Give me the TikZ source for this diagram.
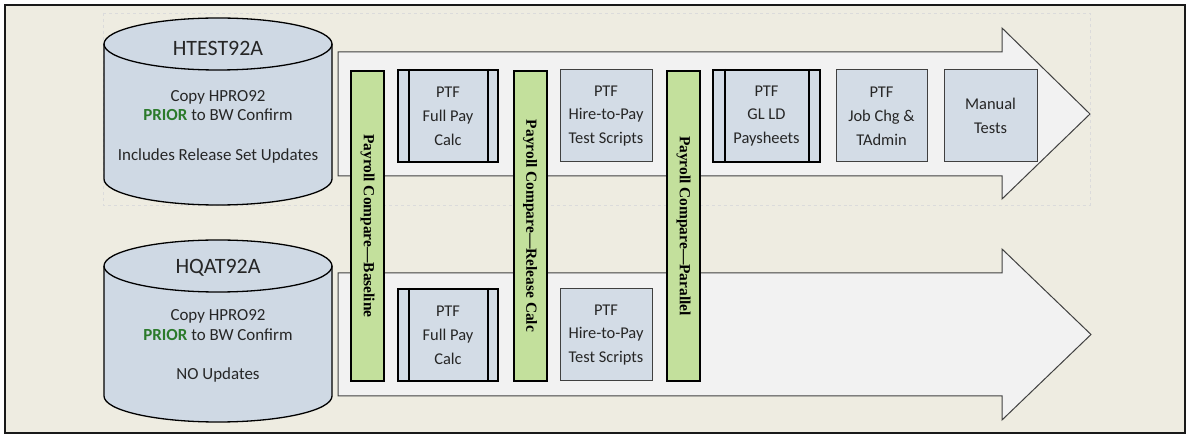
\documentclass[tikz,border=0pt]{standalone}
\usepackage{fontspec}
\setmainfont{Carlito}
\newfontfamily\barfont{Liberation Serif}
\definecolor{bgc}{HTML}{EEECE1}
\definecolor{arrowc}{HTML}{F2F2F2}
\definecolor{arrowedge}{HTML}{404040}
\definecolor{dbc}{HTML}{CFD9E4}
\definecolor{boxc}{HTML}{D3DCE6}
\definecolor{greenc}{HTML}{C3E09C}
\definecolor{txtc}{HTML}{262626}
\definecolor{priorc}{HTML}{2B7A2B}
\newcommand\dbshape[2]{%
  \filldraw[dbstyle] (104,#1) -- (104,#2)
    .. controls (104,{#2+14.4}) and (155,{#2+26}) .. (218,{#2+26})
    .. controls (281,{#2+26}) and (332,{#2+14.4}) .. (332,#2)
    -- (332,#1)
    .. controls (332,{#1-14.4}) and (281,{#1-26}) .. (218,{#1-26})
    .. controls (155,{#1-26}) and (104,{#1-14.4}) .. (104,#1) -- cycle;
  \draw[dbstyle, fill=none] (104,#1)
    .. controls (104,{#1+14.4}) and (155,{#1+26}) .. (218,{#1+26})
    .. controls (281,{#1+26}) and (332,{#1+14.4}) .. (332,#1);}
\begin{document}
\begin{tikzpicture}[x=1bp,y=-1bp,
  dbstyle/.style={draw=black, line width=1.3bp, fill=dbc},
  arrowshape/.style={draw=arrowedge, line width=1bp, fill=arrowc, line join=miter},
  dbtitle/.style={text=txtc, font=\fontsize{22}{24}\selectfont, inner sep=0},
  dbtxt/.style={text=txtc, font=\fontsize{17}{19}\selectfont, inner sep=0},
  thickbox/.style={draw=black, line width=2bp, fill=boxc, minimum height=92bp, inner sep=0},
  thinbox/.style={draw=arrowedge, line width=1bp, fill=boxc, minimum height=92bp, inner sep=0},
  boxtxt/.style={text=txtc, font=\fontsize{16.5}{24}\selectfont, align=center, inner sep=0},
  gbar/.style={draw=black, line width=2bp, fill=greenc, minimum width=33bp, minimum height=310bp, inner sep=0},
  bartxt/.style={rotate=-90, text=black, font=\barfont\bfseries\fontsize{15.5}{18}\selectfont, inner sep=0},
  innerline/.style={draw=black, line width=1.6bp}
]
\useasboundingbox (0,0) rectangle (1189,438);
\fill[white] (0,0) rectangle (1189,438);
\filldraw[fill=bgc, draw=black!90, line width=1.5bp] (5,5) rectangle (1185,433);
\draw[dashed, draw=black!14, line width=0.7bp] (103,13) rectangle (1090,205);

% arrows
\draw[arrowshape] (338,52) -- (1002,52) -- (1002,28) -- (1090,114) -- (1002,199) -- (1002,176) -- (338,176) -- cycle;
\draw[arrowshape] (338,273) -- (1002,273) -- (1002,249) -- (1091,334.5) -- (1002,420) -- (1002,396) -- (338,396) -- cycle;

% databases
\dbshape{44}{179}
\node[dbtitle] (db1) at (218,48) {HTEST92A};
\node[dbtxt] (db1a) at (218,97) {Copy HPRO92};
\node[dbtxt] (db1b) at (218,115) {\textcolor{priorc}{\textbf{PRIOR}} to BW Confirm};
\node[dbtxt] (db1c) at (218,156) {Includes Release Set Updates};

\dbshape{266}{396}
\node[dbtitle] (db2) at (218,268) {HQAT92A};
\node[dbtxt] (db2a) at (218,316) {Copy HPRO92};
\node[dbtxt] (db2b) at (218,335) {\textcolor{priorc}{\textbf{PRIOR}} to BW Confirm};
\node[dbtxt] (db2c) at (218,375) {NO Updates};

% green compare bars
\node[gbar] (g1) at (367.5,226) {};
\node[bartxt] (g1t) at (g1.center) {Payroll Compare—Baseline};
\node[gbar] (g2) at (530,226) {};
\node[bartxt] (g2t) at (g2.center) {Payroll Compare—Release Calc};
\node[gbar] (g3) at (683.5,226) {};
\node[bartxt] (g3t) at (g3.center) {Payroll Compare—Parallel};

% top row boxes
\node[thickbox, minimum width=100bp] (fp1) at (448,116) {};
\draw[innerline] ([xshift=12bp]fp1.north west) -- ([xshift=12bp]fp1.south west);
\draw[innerline] ([xshift=-11bp]fp1.north east) -- ([xshift=-11bp]fp1.south east);
\node[boxtxt] (fp1t) at (fp1.center) {PTF\\Full Pay\\Calc};

\node[thinbox, minimum width=92bp] (hp1) at (606,116) {};
\node[boxtxt] (hp1t) at (hp1.center) {PTF\\Hire-to-Pay\\Test Scripts};

\node[thickbox, minimum width=107bp] (gl1) at (766.5,116) {};
\draw[innerline] ([xshift=13bp]gl1.north west) -- ([xshift=13bp]gl1.south west);
\draw[innerline] ([xshift=-12bp]gl1.north east) -- ([xshift=-12bp]gl1.south east);
\node[boxtxt] (gl1t) at (gl1.center) {PTF\\GL LD\\Paysheets};

\node[thinbox, minimum width=91bp] (jc1) at (881.5,116) {};
\node[boxtxt] (jc1t) at (jc1.center) {PTF\\Job Chg \&\\TAdmin};

\node[thinbox, minimum width=93bp] (mt1) at (990.5,115.5) {};
\node[boxtxt] (mt1t) at (mt1.center) {Manual\\Tests};

% bottom row boxes
\node[thickbox, minimum width=100bp] (fp2) at (448,335) {};
\draw[innerline] ([xshift=12bp]fp2.north west) -- ([xshift=12bp]fp2.south west);
\draw[innerline] ([xshift=-11bp]fp2.north east) -- ([xshift=-11bp]fp2.south east);
\node[boxtxt] (fp2t) at (fp2.center) {PTF\\Full Pay\\Calc};

\node[thinbox, minimum width=92bp] (hp2) at (606,335) {};
\node[boxtxt] (hp2t) at (hp2.center) {PTF\\Hire-to-Pay\\Test Scripts};
\end{tikzpicture}
\end{document}
